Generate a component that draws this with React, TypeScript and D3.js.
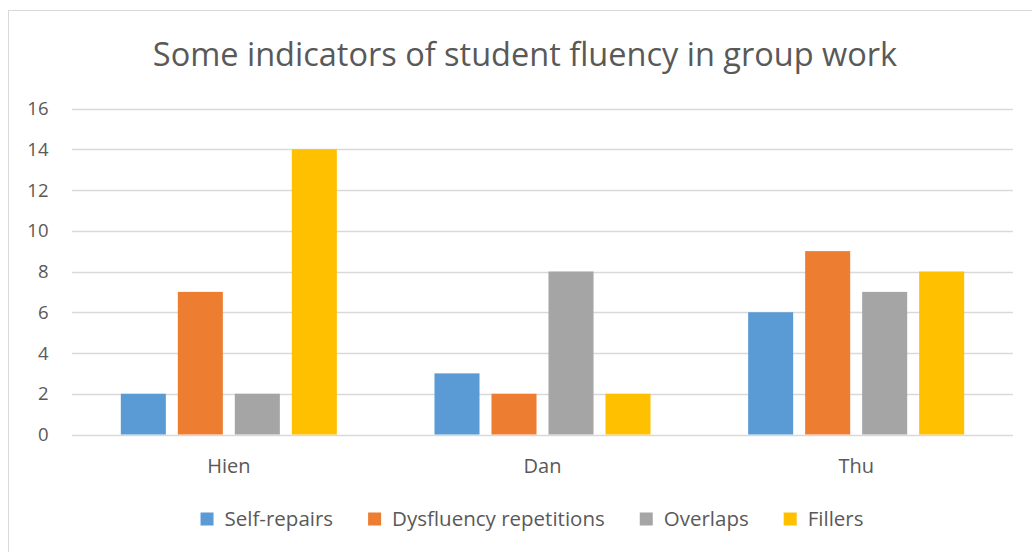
import React, { useEffect, useRef } from 'react';
import * as d3 from 'd3';

const students = ['Hien', 'Dan', 'Thu'];
const series = ['Self-repairs', 'Dysfluency repetitions', 'Overlaps', 'Fillers'];
const colors = ['#5B9BD5', '#ED7D31', '#A5A5A5', '#FFC000'];
const selfRepairs = [2, 3, 6];
const dysfluency = [7, 2, 9];
const overlaps = [2, 8, 7];
const fillers = [14, 2, 8];
const yTicks = [0, 2, 4, 6, 8, 10, 12, 14, 16];

const values = [selfRepairs, dysfluency, overlaps, fillers];

const App: React.FC = () => {
  const svgRef = useRef<SVGSVGElement>(null);

  useEffect(() => {
    if (!svgRef.current) return;
    const svg = d3.select(svgRef.current);
    svg.selectAll('*').remove();

    const font = '"Open Sans", sans-serif';
    const textColor = '#595959';

    // chart area border (top and left only visible)
    svg.append('rect')
      .attr('x', 8.5).attr('y', 10.5)
      .attr('width', 1040).attr('height', 560)
      .attr('fill', 'white')
      .attr('stroke', '#d9d9d9');

    svg.append('text')
      .attr('x', 525).attr('y', 66)
      .attr('text-anchor', 'middle')
      .attr('font-family', font)
      .attr('font-size', 32.5)
      .attr('fill', textColor)
      .text('Some indicators of student fluency in group work');

    const left = 72, right = 1013;
    const y = d3.scaleLinear().domain([0, 16]).range([434.5, 108.5]);
    const x0 = d3.scaleBand().domain(students).range([left, right]);
    const x1 = d3.scaleBand().domain(series).range([-114, 114]).paddingInner(0.21).paddingOuter(0.105);

    // gridlines
    svg.append('g')
      .selectAll('line')
      .data(yTicks)
      .join('line')
      .attr('x1', left).attr('x2', right)
      .attr('y1', d => Math.round(y(d)) + 0.5)
      .attr('y2', d => Math.round(y(d)) + 0.5)
      .attr('stroke', '#d9d9d9')
      .attr('stroke-width', 1.5);

    svg.append('g')
      .selectAll('text')
      .data(yTicks)
      .join('text')
      .attr('x', 48.5)
      .attr('y', d => y(d) + 6.7)
      .attr('text-anchor', 'end')
      .attr('font-family', font)
      .attr('font-size', 18.5)
      .attr('fill', textColor)
      .text(d => d);

    // bars
    const groups = svg.append('g')
      .selectAll('g')
      .data(students)
      .join('g')
      .attr('transform', d => `translate(${x0(d)! + x0.bandwidth() / 2},0)`);

    groups.selectAll('rect')
      .data((_, i) => series.map((s, j) => ({ s, j, v: values[j][i] })))
      .join('rect')
      .attr('x', d => x1(d.s)!)
      .attr('width', x1.bandwidth())
      .attr('y', d => y(d.v))
      .attr('height', d => y(0) - y(d.v))
      .attr('fill', d => colors[d.j]);

    svg.append('g')
      .selectAll('text')
      .data(students)
      .join('text')
      .attr('x', d => x0(d)! + x0.bandwidth() / 2)
      .attr('y', 472.5)
      .attr('text-anchor', 'middle')
      .attr('font-family', font)
      .attr('font-size', 20)
      .attr('fill', textColor)
      .text(d => d);

    // legend, laid out then centred
    const legend = svg.append('g');
    let lx = 0;
    series.forEach((s, i) => {
      legend.append('rect')
        .attr('x', lx).attr('y', 512.5)
        .attr('width', 13).attr('height', 13)
        .attr('fill', colors[i]);
      const t = legend.append('text')
        .attr('x', lx + 24).attr('y', 526)
        .attr('font-family', font)
        .attr('font-size', 20.5)
        .attr('fill', textColor)
        .text(s);
      const w = (t.node() as SVGTextElement).getComputedTextLength();
      lx += 24 + w + (i < series.length - 1 ? 35 : 0);
    });
    legend.attr('transform', `translate(${532 - lx / 2},0)`);
  }, []);

  return (
    <svg
      ref={svgRef}
      width={1032}
      height={552}
      style={{ position: 'absolute', left: 0, top: 0 }}
    />
  );
};

export default App;
